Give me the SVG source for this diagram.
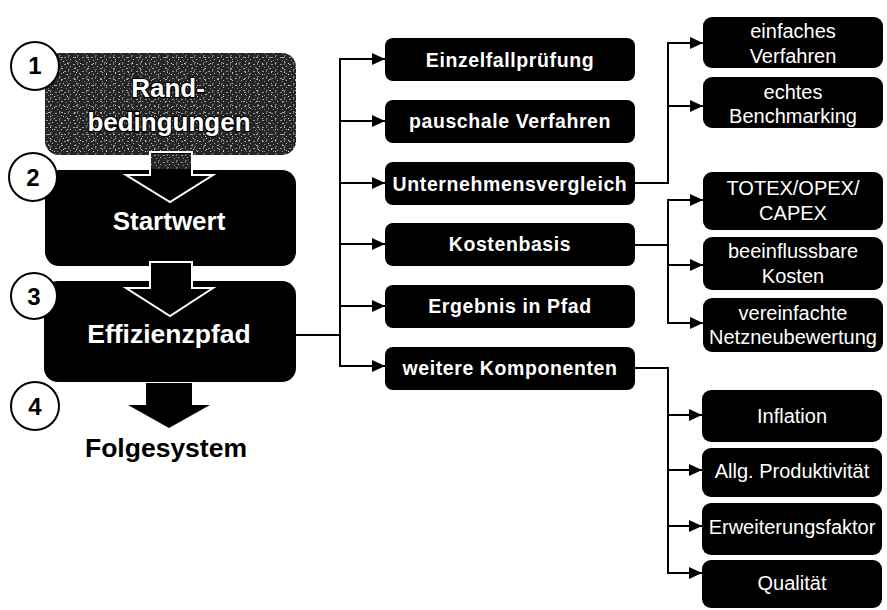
<svg xmlns="http://www.w3.org/2000/svg" width="887" height="610" viewBox="0 0 887 610">
<style>
.num{font-family:"Liberation Sans",Arial,sans-serif;font-weight:bold;font-size:24px;fill:#000;text-anchor:middle}
.big{font-family:"Liberation Sans",Arial,sans-serif;font-weight:bold;font-size:26px;fill:#fff;text-anchor:middle}
.mid{font-family:"Liberation Sans",Arial,sans-serif;font-weight:bold;font-size:19.5px;letter-spacing:0.6px;fill:#fff;text-anchor:middle}
.sm{font-family:"Liberation Sans",Arial,sans-serif;font-size:20px;fill:#fff;text-anchor:middle}
.circ{fill:#fff;stroke:#000;stroke-width:2}
.box{fill:#000}
.con{fill:none;stroke:#000;stroke-width:2}
.arr{fill:none;stroke:#000;stroke-width:2;marker-end:url(#ah)}
.outl{fill:#fff;stroke:#000;stroke-width:2.5;paint-order:stroke}
</style>
<defs>
<marker id="ah" markerUnits="userSpaceOnUse" markerWidth="13" markerHeight="12" refX="13" refY="6" orient="auto">
<path d="M0,0 L13,6 L0,12 z" fill="#000"/>
</marker>
<pattern id="grain" patternUnits="userSpaceOnUse" width="9" height="7">
<rect width="9" height="7" fill="#262626"/>
<rect x="1" y="1" width="2" height="1" fill="#9a9a9a"/>
<rect x="5" y="0" width="1" height="2" fill="#7a7a7a"/>
<rect x="7" y="3" width="1" height="1" fill="#bbbbbb"/>
<rect x="3" y="4" width="1" height="1" fill="#8a8a8a"/>
<rect x="5" y="6" width="2" height="1" fill="#6a6a6a"/>
</pattern>
<pattern id="grain2" patternUnits="userSpaceOnUse" width="13" height="11">
<rect x="2" y="8" width="1" height="1" fill="#ddd"/>
<rect x="9" y="2" width="2" height="1" fill="#aaa"/>
<rect x="11" y="6" width="1" height="1" fill="#ccc"/>
</pattern>
</defs>

<g id="connectors">
<line class="con" x1="296" y1="335" x2="340" y2="335"/>
<line class="con" x1="340" y1="59" x2="340" y2="366"/>
<line class="arr" x1="339" y1="59" x2="385" y2="59"/>
<line class="arr" x1="339" y1="121" x2="385" y2="121"/>
<line class="arr" x1="339" y1="183" x2="385" y2="183"/>
<line class="arr" x1="339" y1="244" x2="385" y2="244"/>
<line class="arr" x1="339" y1="306" x2="385" y2="306"/>
<line class="arr" x1="339" y1="366" x2="385" y2="366"/>
<line class="con" x1="635" y1="183" x2="668" y2="183"/>
<line class="con" x1="668" y1="43" x2="668" y2="184"/>
<line class="arr" x1="667" y1="43" x2="703" y2="43"/>
<line class="arr" x1="667" y1="106" x2="703" y2="106"/>
<line class="con" x1="635" y1="245" x2="668" y2="245"/>
<line class="con" x1="668" y1="200" x2="668" y2="323"/>
<line class="arr" x1="667" y1="200" x2="703" y2="200"/>
<line class="arr" x1="667" y1="265" x2="703" y2="265"/>
<line class="arr" x1="667" y1="323" x2="703" y2="323"/>
<line class="con" x1="635" y1="368" x2="668" y2="368"/>
<line class="con" x1="668" y1="367" x2="668" y2="573"/>
<line class="arr" x1="667" y1="415" x2="702" y2="415"/>
<line class="arr" x1="667" y1="470" x2="702" y2="470"/>
<line class="arr" x1="667" y1="526" x2="702" y2="526"/>
<line class="arr" x1="667" y1="573" x2="702" y2="573"/>
</g>

<g id="n1">
<rect x="45" y="53" width="251" height="102" rx="14" fill="url(#grain)"/>
<rect x="45" y="53" width="251" height="102" rx="14" fill="url(#grain2)"/>
<text class="big outl" x="168" y="97">Rand-</text>
<text class="big outl" x="169" y="131">bedingungen</text>
<circle class="circ" cx="35" cy="66" r="24"/>
<text class="num" x="35" y="74">1</text>
</g>

<g id="n2">
<rect class="box" x="45" y="170" width="251" height="96" rx="14"/>
<text class="big" x="169" y="230">Startwert</text>
<circle class="circ" cx="33" cy="177" r="24"/>
<text class="num" x="33" y="186">2</text>
</g>

<g id="n3">
<rect class="box" x="44" y="281" width="252" height="101" rx="14"/>
<text class="big" x="169" y="343" style="font-size:26.5px">Effizienzpfad</text>
<circle class="circ" cx="34" cy="296" r="23"/>
<text class="num" x="34" y="305">3</text>
</g>

<g id="a12">
<polygon points="150,152 192,152 192,175 213,175 170,202 126,175 150,175" fill="#000" stroke="#fff" stroke-width="2"/>
<rect x="151" y="154" width="40" height="15" fill="url(#grain)"/>
</g>
<g id="a23">
<polygon points="150,262 192,262 192,288 213,288 170,316 126,288 150,288" fill="#000" stroke="#fff" stroke-width="2"/>
</g>

<g id="n4">
<polygon points="146,383 192,383 192,405 210,405 169,428 128,405 146,405" fill="#000"/>
<circle class="circ" cx="35" cy="406" r="24"/>
<text class="num" x="35" y="415">4</text>
<text class="big" x="166" y="457" style="fill:#000;font-size:26.5px">Folgesystem</text>
</g>

<g id="m1"><rect class="box" x="385" y="38" width="250" height="43" rx="8"/><text class="mid" x="510" y="67">Einzelfallprüfung</text></g>
<g id="m2"><rect class="box" x="385" y="100" width="250" height="43" rx="8"/><text class="mid" x="510" y="128">pauschale Verfahren</text></g>
<g id="m3"><rect class="box" x="385" y="162" width="250" height="43" rx="8"/><text class="mid" x="510" y="191">Unternehmensvergleich</text></g>
<g id="m4"><rect class="box" x="385" y="223" width="250" height="43" rx="8"/><text class="mid" x="510" y="251">Kostenbasis</text></g>
<g id="m5"><rect class="box" x="385" y="285" width="250" height="43" rx="8"/><text class="mid" x="510" y="313">Ergebnis in Pfad</text></g>
<g id="m6"><rect class="box" x="385" y="347" width="250" height="43" rx="8"/><text class="mid" x="510" y="375">weitere Komponenten</text></g>

<g id="r1"><rect class="box" x="703" y="17" width="180" height="51" rx="9"/><text class="sm" x="793" y="38">einfaches</text><text class="sm" x="793" y="63">Verfahren</text></g>
<g id="r2"><rect class="box" x="703" y="77" width="180" height="51" rx="9"/><text class="sm" x="793" y="99">echtes</text><text class="sm" x="793" y="123">Benchmarking</text></g>
<g id="r3"><rect class="box" x="703" y="172" width="180" height="58" rx="9"/><text class="sm" x="793" y="195">TOTEX/OPEX/</text><text class="sm" x="793" y="220">CAPEX</text></g>
<g id="r4"><rect class="box" x="703" y="237" width="180" height="53" rx="9"/><text class="sm" x="793" y="258">beeinflussbare</text><text class="sm" x="793" y="283">Kosten</text></g>
<g id="r5"><rect class="box" x="703" y="298" width="180" height="54" rx="9"/><text class="sm" x="793" y="320">vereinfachte</text><text class="sm" x="793" y="344">Netzneubewertung</text></g>

<g id="b1"><rect class="box" x="702" y="390" width="180" height="52" rx="9"/><text class="sm" x="792" y="423">Inflation</text></g>
<g id="b2"><rect class="box" x="702" y="448" width="180" height="49" rx="9"/><text class="sm" x="792" y="478">Allg. Produktivität</text></g>
<g id="b3"><rect class="box" x="702" y="503" width="180" height="52" rx="9"/><text class="sm" x="792" y="534">Erweiterungsfaktor</text></g>
<g id="b4"><rect class="box" x="702" y="560" width="180" height="48" rx="9"/><text class="sm" x="792" y="590">Qualität</text></g>
</svg>
